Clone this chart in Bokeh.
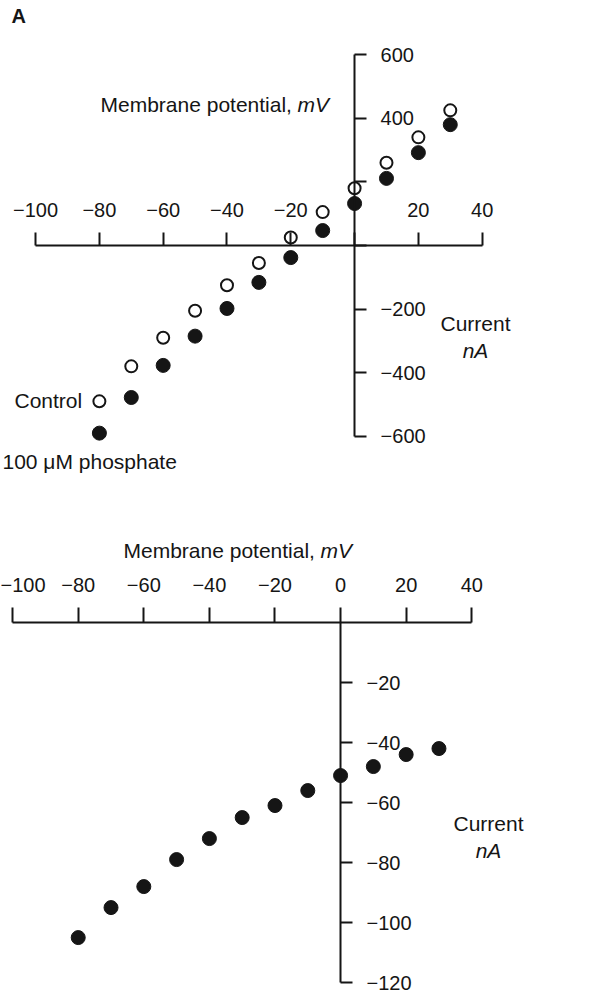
from bokeh.plotting import figure
from bokeh.models import LinearAxis, FixedTicker, Label, Range1d, ColumnDataSource
from bokeh.layouts import column
from bokeh.embed import file_html
from bokeh.resources import INLINE

# ---------------- data ----------------
voltage = [-80, -70, -60, -50, -40, -30, -20, -10, 0, 10, 20, 30]
control_current = [-490, -380, -290, -205, -125, -55, 25, 105, 180, 260, 340, 425]
phosphate_current = [-590, -478, -377, -285, -198, -116, -38, 47, 132, 211, 292, 380]

voltage_b = [-80, -70, -60, -50, -40, -30, -20, -10, 0, 10, 20, 30]
current_b = [-105, -95, -88, -79, -72, -65, -61, -56, -51, -48, -44, -42]

x_ticks = [-100, -80, -60, -40, -20, 0, 20, 40]
top_y_ticks = [-600, -400, -200, 0, 200, 400, 600]
bottom_y_ticks = [-120, -100, -80, -60, -40, -20]

top_x_labels = {-100: "\u2212100", -80: "\u221280", -60: "\u221260", -40: "\u221240",
                -20: "\u221220", 0: "", 20: "20", 40: "40"}
top_y_labels = {-600: "\u2212600", -400: "\u2212400", -200: "\u2212200", 0: "",
                200: "", 400: "400", 600: "600"}
bottom_x_labels = {-100: "\u2212100", -80: "\u221280", -60: "\u221260", -40: "\u221240",
                   -20: "\u221220", 0: "0", 20: "20", 40: "40"}
bottom_y_labels = {-120: "\u2212120", -100: "\u2212100", -80: "\u221280", -60: "\u221260",
                   -40: "\u221240", -20: "\u221220"}

FONT = "Liberation Sans"
INK = "#151515"


def style_axis(ax, tick_out, labels, standoff):
    ax.axis_line_width = 2
    ax.axis_line_color = INK
    ax.major_tick_line_width = 2
    ax.major_tick_line_color = INK
    ax.major_tick_in = 0
    ax.major_tick_out = tick_out
    ax.minor_tick_in = 0
    ax.minor_tick_out = 0
    ax.major_label_overrides = labels
    ax.major_label_text_font = FONT
    ax.major_label_text_font_size = "20px"
    ax.major_label_text_color = INK
    ax.major_label_standoff = standoff


def label(p, x, y, text, size="21px", style="normal", align="left"):
    p.add_layout(Label(x=x, y=y, x_units="screen", y_units="screen", text=text,
                       text_font=FONT, text_font_size=size, text_font_style=style,
                       text_align=align, text_baseline="middle", text_color=INK))


# ---------------- top panel ----------------
H1 = 490
p1 = figure(width=608, height=H1, x_range=Range1d(-111.0, 79.6), y_range=Range1d(-770.4, 770.4),
            min_border=0, toolbar_location=None, output_backend="svg", title=None,
            x_axis_type=None, y_axis_type=None, outline_line_color=None)
p1.xgrid.visible = False
p1.ygrid.visible = False

xa = LinearAxis(fixed_location=0, ticker=FixedTicker(ticks=x_ticks), bounds=(-100, 40))
style_axis(xa, 13, top_x_labels, 16)
p1.add_layout(xa, "above")

ya = LinearAxis(fixed_location=0, ticker=FixedTicker(ticks=top_y_ticks), bounds=(-600, 600))
style_axis(ya, 12, top_y_labels, 14)
p1.add_layout(ya, "right")

src1 = ColumnDataSource(dict(v=voltage, c=control_current, ph=phosphate_current))
p1.scatter("v", "c", source=src1, size=12, fill_color="white", line_color=INK, line_width=2)
p1.scatter("v", "ph", source=src1, size=14, fill_color=INK, line_color=INK)

label(p1, 11, H1 - 15, "A", size="20px", style="bold")
label(p1, 100, H1 - 104, "Membrane potential, ")
label(p1, 297, H1 - 104, "mV", style="italic")
label(p1, 475, H1 - 323, "Current", align="center")
label(p1, 475, H1 - 350, "nA", style="italic", align="center")
label(p1, 14, H1 - 400, "Control")
label(p1, 2, H1 - 461, "100 \u03bcM phosphate")

# ---------------- bottom panel ----------------
H2 = 505
p2 = figure(width=608, height=H2, x_range=Range1d(-103.7, 81.7), y_range=Range1d(-124.3, 44.0),
            min_border=0, toolbar_location=None, output_backend="svg", title=None,
            x_axis_type=None, y_axis_type=None, outline_line_color=None)
p2.xgrid.visible = False
p2.ygrid.visible = False

xb = LinearAxis(fixed_location=0, ticker=FixedTicker(ticks=x_ticks), bounds=(-100, 40))
style_axis(xb, 15, bottom_x_labels, 16)
p2.add_layout(xb, "above")

yb = LinearAxis(fixed_location=0, ticker=FixedTicker(ticks=bottom_y_ticks), bounds=(-120, 0))
style_axis(yb, 12, bottom_y_labels, 14)
p2.add_layout(yb, "right")

src2 = ColumnDataSource(dict(v=voltage_b, c=current_b))
p2.scatter("v", "c", source=src2, size=14, fill_color=INK, line_color=INK)

label(p2, 123, H2 - 60, "Membrane potential, ")
label(p2, 320, H2 - 60, "mV", style="italic")
label(p2, 488, H2 - 333, "Current", align="center")
label(p2, 488, H2 - 360, "nA", style="italic", align="center")

layout = column(p1, p2, spacing=0)
open("out.html", "w").write(file_html(layout, INLINE))
